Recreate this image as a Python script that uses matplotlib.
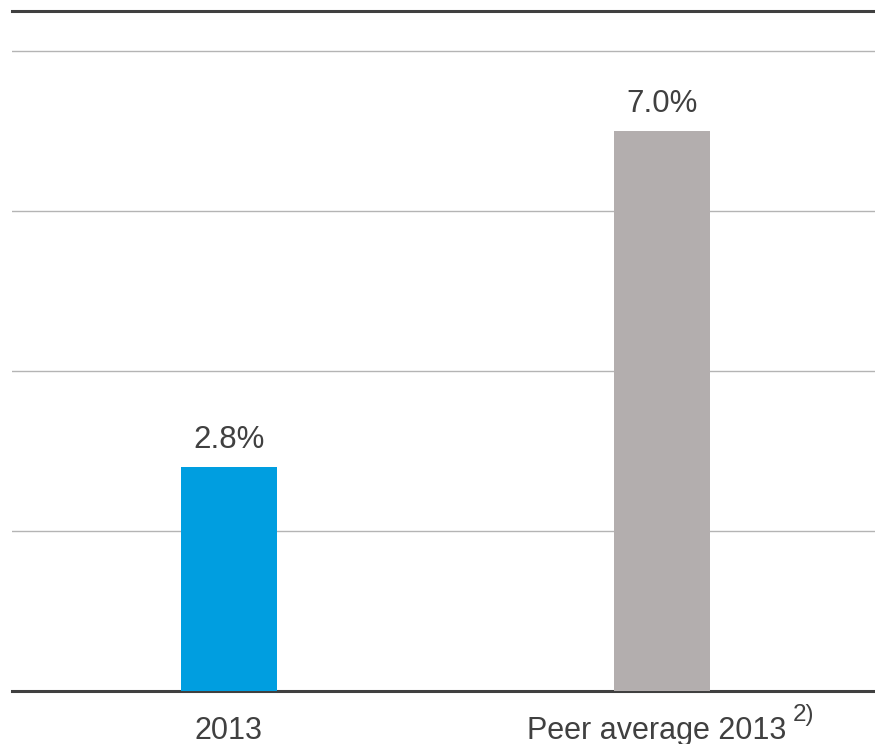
import matplotlib
matplotlib.use("Agg")
import matplotlib.pyplot as plt

plt.rcParams['font.family'] = ['Liberation Sans', 'DejaVu Sans']

categories = ['2013', 'Peer average 2013']
footnotes = ['', '2)']
values = [2.8, 7.0]
labels = ['2.8%', '7.0%']
colors = ['#009ee0', '#b3aeae']

text_color = '#404040'

fig = plt.figure(figsize=(8.75, 7.44), dpi=100)
ax = fig.add_axes([12 / 875, 1 - 691 / 744, 863 / 875, (691 - 11) / 744])

x = list(range(len(values)))
bars = ax.bar(x, values, width=0.222, color=colors, zorder=3)

# value labels above bars
for b, lab in zip(bars, labels):
    ax.annotate(lab, (b.get_x() + b.get_width() / 2, b.get_height()),
                xytext=(0, 13.7), textcoords='offset points',
                ha='center', va='baseline', fontsize=22.5, color=text_color)

# category labels (drawn by hand so the footnote can sit as superscript)
for xi, cat, fn in zip(x, categories, footnotes):
    dx = -3.6 if fn else 0
    ax.annotate(cat, (xi, 0), xytext=(dx, -34.6), textcoords='offset points',
                ha='center', va='baseline', fontsize=22, color=text_color,
                annotation_clip=False)
    if fn:
        ax.annotate(fn, (xi, 0), xytext=(94.5, -21.6), textcoords='offset points',
                    ha='left', va='baseline', fontsize=17.5, color=text_color,
                    annotation_clip=False)

ax.set_ylim(0, 8.5)
ax.set_xlim(-0.501, 1.492)
ax.set_yticks([2, 4, 6, 8])
ax.yaxis.grid(True, color='#b4b4b4', linewidth=1.0, zorder=0)
ax.tick_params(axis='y', left=False, labelleft=False)
ax.set_xticks([])

for s in ['left', 'right']:
    ax.spines[s].set_visible(False)
for s in ['top', 'bottom']:
    ax.spines[s].set_color('#404040')
    ax.spines[s].set_linewidth(2.2)

fig.savefig('out.png', dpi=100)
